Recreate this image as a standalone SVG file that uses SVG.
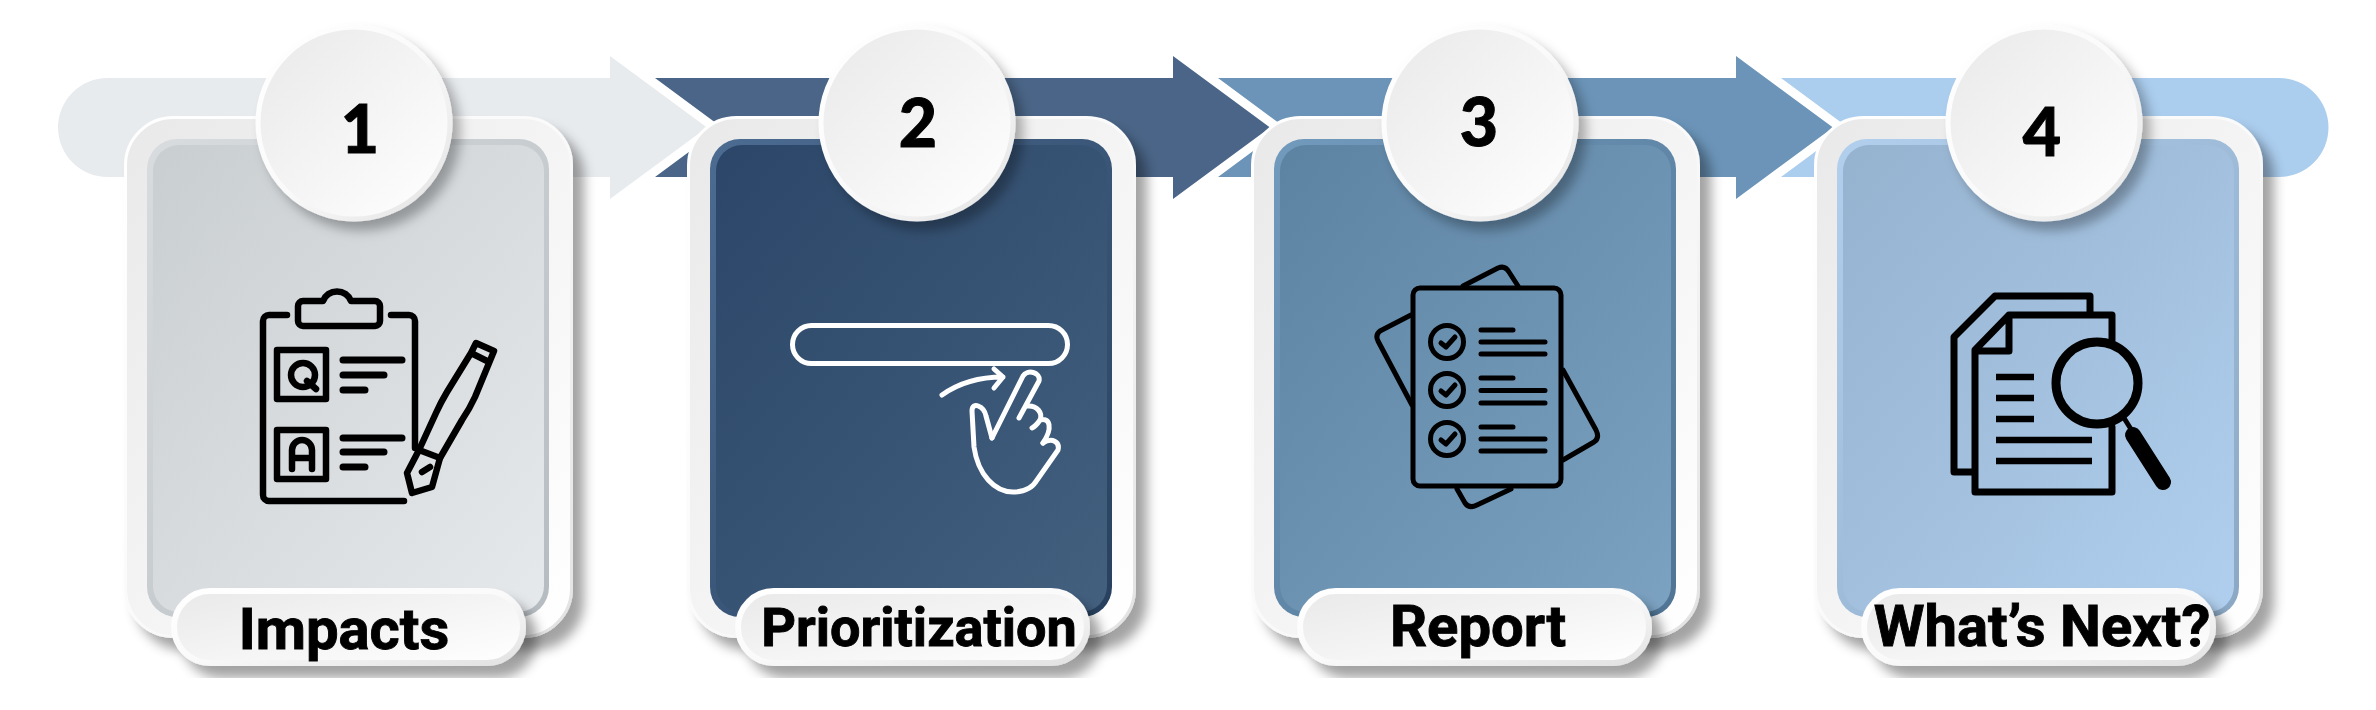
<svg xmlns="http://www.w3.org/2000/svg" width="2376" height="710" viewBox="0 0 2376 710">
<style>
.card{fill:url(#cardFill);stroke:url(#cardEdge);stroke-width:3;filter:url(#sh)}
.badge{fill:url(#cardFill);stroke:url(#cardEdge);stroke-width:5;filter:url(#shs)}
.pill{fill:url(#cardFill);stroke:url(#cardEdge);stroke-width:6;filter:url(#sh)}
.num{font:900 66px Lato,"DejaVu Sans",sans-serif;text-anchor:middle;fill:#000;stroke:#000;stroke-width:1}
.lbl{font:700 58px Roboto,"Liberation Sans",sans-serif;text-anchor:middle;fill:#000;stroke:#000;stroke-width:.9}
.ik{fill:none;stroke:#000;stroke-linecap:round;stroke-linejoin:round}
.ikw{fill:none;stroke:#fff;stroke-linecap:round;stroke-linejoin:round}
</style>
<defs>
<linearGradient id="cardFill" x1="0" y1="0" x2="1" y2="1"><stop offset="0" stop-color="#e9e9e9"/><stop offset="1" stop-color="#ffffff"/></linearGradient>
<linearGradient id="cardEdge" x1="0" y1="0" x2="1" y2="1"><stop offset="0" stop-color="#ffffff"/><stop offset=".5" stop-color="#fafafa"/><stop offset="1" stop-color="#e2e2e2"/></linearGradient>
<linearGradient id="p1" x1="0" y1="0" x2="1" y2="1"><stop offset="0" stop-color="#c9ced1"/><stop offset="1" stop-color="#e6e9ec"/></linearGradient>
<linearGradient id="r1" x1="0" y1="0" x2="1" y2="1"><stop offset="0" stop-color="#d9dcde"/><stop offset="1" stop-color="#b5bcc1"/></linearGradient>
<linearGradient id="p2" x1="0" y1="0" x2="1" y2="1"><stop offset="0" stop-color="#2b4668"/><stop offset="1" stop-color="#43607f"/></linearGradient>
<linearGradient id="r2" x1="0" y1="0" x2="1" y2="1"><stop offset="0" stop-color="#4d6c92"/><stop offset="1" stop-color="#27405e"/></linearGradient>
<linearGradient id="p3" x1="0" y1="0" x2="1" y2="1"><stop offset="0" stop-color="#5d83a3"/><stop offset="1" stop-color="#7ca2c2"/></linearGradient>
<linearGradient id="r3" x1="0" y1="0" x2="1" y2="1"><stop offset="0" stop-color="#729abc"/><stop offset="1" stop-color="#4f7494"/></linearGradient>
<linearGradient id="p4" x1="0" y1="0" x2="1" y2="1"><stop offset="0" stop-color="#95b2cf"/><stop offset="1" stop-color="#b0cfee"/></linearGradient>
<linearGradient id="r4" x1="0" y1="0" x2="1" y2="1"><stop offset="0" stop-color="#b2d0ed"/><stop offset="1" stop-color="#8aa7c4"/></linearGradient>
<filter id="sh" x="-15%" y="-15%" width="135%" height="135%"><feDropShadow dx="11" dy="12" stdDeviation="6" flood-color="#000" flood-opacity=".36"/></filter>
<filter id="shs" x="-15%" y="-15%" width="135%" height="135%"><feDropShadow dx="8" dy="9" stdDeviation="6" flood-color="#000" flood-opacity=".3"/></filter>
</defs>
<g id="connectors">
<path fill="#abcdee" d="M1781 78H2279A49.5 49.5 0 0 1 2279 177H1781L1848 127.5Z"/>
<path fill="#6b94b8" d="M1218 78H1736V56L1833 127.5L1736 199V177H1218L1285 127.5Z"/>
<path fill="#4a6587" d="M655 78H1173V56L1270 127.5L1173 199V177H655L722 127.5Z"/>
<path fill="#e8ebee" d="M107.500 78H610V56L707 127.500L610 199V177H107.500A49.500 49.500 0 0 1 107.500 78Z"/>
</g>
<g id="step1">
<rect class="card" x="125.500" y="117.500" width="446" height="519" rx="48"/>
<rect x="147" y="139" width="402" height="478" rx="30" fill="url(#r1)"/>
<rect x="153" y="145" width="391" height="467" rx="26" fill="url(#p1)"/>
<g class="ik" stroke-width="6.500">
<path d="M287 315H269a6 6 0 0 0-6 6V495a6 6 0 0 0 6 6H404"/>
<path d="M391 315H409a6 6 0 0 1 6 6V448"/>
<path d="M303 301H323A15 15 0 0 1 351 301H375a5 5 0 0 1 5 5V321a5 5 0 0 1-5 5H303a5 5 0 0 1-5-5V306a5 5 0 0 1 5-5Z"/>
<rect x="277" y="350" width="49" height="49"/><rect x="277" y="430" width="49" height="49"/>
<circle cx="303" cy="375" r="12"/><path d="M307 381L316 389"/>
<path d="M292 469V450a10 10 0 0 1 20 0V469M292 458H312"/>
<path d="M476 343L494 351L475 397Q470 408 462 420L440 458L419 450L436 413Q441 402 447 392L471 353ZM471 353L489 362"/>
<path d="M419 450L407 473L412 493L432 487L440 458M422 472L430 467"/>
</g>
<g class="ik" stroke-width="7">
<path d="M343 360H402M343 375H384M343 390H365M343 438H402M343 452H384M343 467H365"/>
</g>
<rect class="pill" x="174" y="591" width="349" height="72" rx="36"/>
<circle class="badge" cx="354" cy="123" r="96"/>
<text class="num" x="360" y="153">1</text>
<text class="lbl" x="344" y="649">Impacts</text>
</g>
<g id="step2">
<rect class="card" x="688.500" y="117.500" width="446" height="519" rx="48"/>
<rect x="710" y="139" width="402" height="478" rx="30" fill="url(#r2)"/>
<rect x="716" y="145" width="391" height="467" rx="26" fill="url(#p2)"/>
<g class="ikw" stroke-width="5">
<rect x="792.500" y="325.500" width="275" height="38" rx="19"/>
<path d="M992 438L1023 376C1027 369 1041 372 1039 381L1019 418"/>
<path d="M992 438L986 416C984 406 972 401 972 411L974 447C978 475 995 492 1013 492C1025 492 1033 487 1037 480L1058 450C1060 442 1052 437 1043 443"/>
<path d="M1027 406C1037 405 1043 413 1040 420C1036 426 1034 427 1032 428M1040 420C1050 417 1053 428 1043 443"/>
<path d="M942 395Q967 377 1003 377M994 369L1003 377L994 388"/>
</g>
<rect class="pill" x="738" y="591" width="349" height="72" rx="36"/>
<circle class="badge" cx="917" cy="123" r="96"/>
<text class="num" x="918" y="147">2</text>
<text class="lbl" x="919" y="646" style="font-size:54px">Prioritization</text>
</g>
<g id="step3">
<rect class="card" x="1252.500" y="117.500" width="446" height="519" rx="48"/>
<rect x="1274" y="139" width="402" height="478" rx="30" fill="url(#r3)"/>
<rect x="1280" y="145" width="391" height="467" rx="26" fill="url(#p3)"/>
<g class="ik" stroke-width="5">
<rect x="1413" y="288" width="148" height="198" rx="7"/>
<path d="M1463 286L1498 268Q1505 265 1509 272L1518 286M1411 315L1380 331Q1375 335 1378 341L1412 405M1563 370L1596 430Q1600 438 1594 442L1563 460M1457 489L1465 503Q1469 509 1477 505L1511 489"/>
<circle cx="1447" cy="342" r="16.500"/><circle cx="1447" cy="390" r="16.500"/><circle cx="1447" cy="439" r="16.500"/>
<path d="M1441 343L1446 347L1455 337M1441 391L1446 395L1455 385M1441 440L1446 444L1455 434"/>
<path d="M1481 330H1513M1481 342H1545M1481 354H1545M1481 378H1513M1481 390.500H1545M1481 403H1545M1481 427H1513M1481 439H1545M1481 451H1545"/>
</g>
<rect class="pill" x="1300" y="591" width="349" height="72" rx="36"/>
<circle class="badge" cx="1480" cy="123" r="96"/>
<text class="num" x="1479" y="146">3</text>
<text class="lbl" x="1478" y="646">Report</text>
</g>
<g id="step4">
<rect class="card" x="1815.500" y="117.500" width="446" height="519" rx="48"/>
<rect x="1837" y="139" width="402" height="478" rx="30" fill="url(#r4)"/>
<rect x="1843" y="145" width="391" height="467" rx="26" fill="url(#p4)"/>
<g class="ik" stroke-width="7">
<path d="M2090 312V296H1995L1954 337V472H1973"/>
<path d="M2112 340V315H2009L1975 350V492H2112V427M2009 315V351H1975"/>
</g>
<path fill="none" stroke="#000" stroke-width="6.500" d="M1996 377H2034M1996 398H2034M1996 419H2034M1996 440H2092M1996 461H2092"/>
<circle cx="2097" cy="383" r="41" fill="none" stroke="#000" stroke-width="9"/>
<path d="M2124 418L2134 434" stroke="#000" stroke-width="5" fill="none"/>
<path d="M2133 435L2163 482" stroke="#000" stroke-width="16" stroke-linecap="round" fill="none"/>
<rect class="pill" x="1864" y="591" width="349" height="72" rx="36"/>
<circle class="badge" cx="2044" cy="123" r="96"/>
<text class="num" x="2042" y="156">4</text>
<text class="lbl" x="2042" y="646">What’s Next?</text>
</g>
</svg>
